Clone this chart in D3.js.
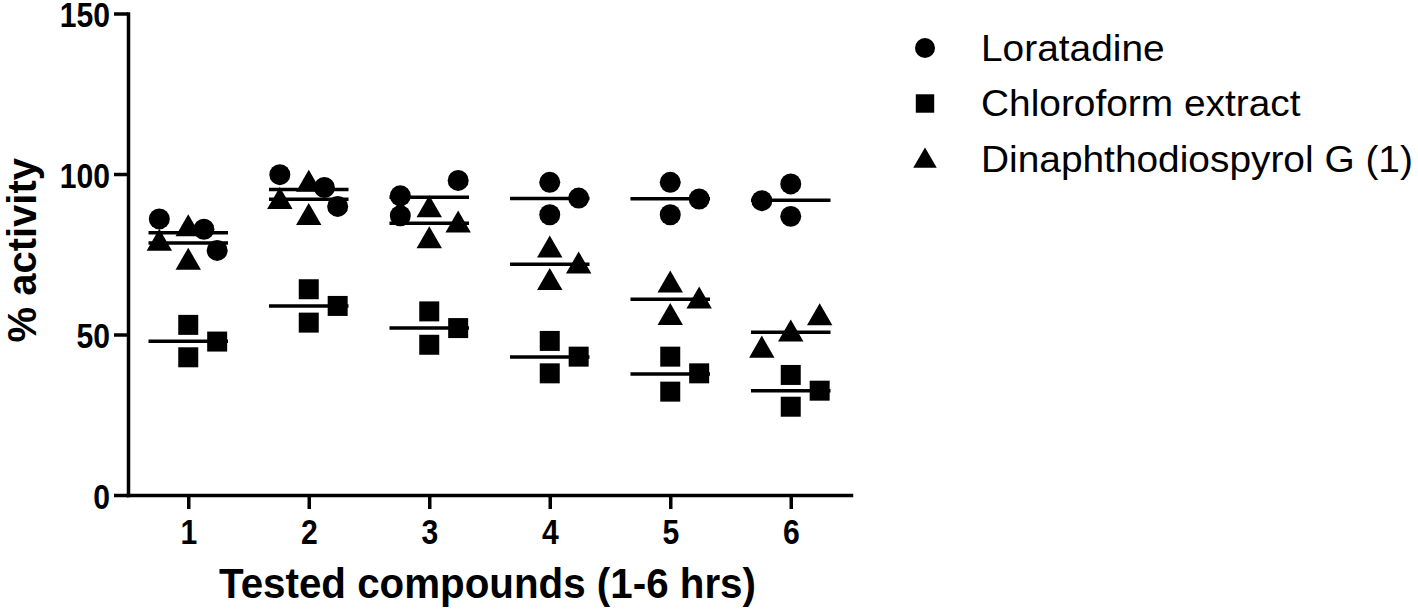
<!DOCTYPE html>
<html>
<head>
<meta charset="utf-8">
<script src="https://cdn.jsdelivr.net/npm/d3@7"></script>
<style>
  body { margin: 0; background: #fff; }
  svg { display: block; }
  text { font-family: "Liberation Sans", Arial, sans-serif; fill: #000; }
</style>
</head>
<body>
<script>
// ---- data ----
const compounds = [1, 2, 3, 4, 5, 6];
const yTicks = [0, 50, 100, 150];
const seriesNames = ["Loratadine", "Chloroform extract", "Dinaphthodiospyrol G (1)"];

// three replicates per compound, % activity
const loratadine = [
  [86.0, 82.8, 76.2], [99.8, 95.8, 89.9], [98.0, 93.2, 87.0],
  [97.4, 92.5, 87.3], [97.4, 92.2, 87.3], [96.9, 91.7, 86.8]
];
const chloroform = [
  [53.0, 47.8, 42.9], [64.1, 58.9, 53.7], [57.2, 52.0, 46.8],
  [48.0, 43.1, 37.9], [43.1, 37.9, 32.2], [37.4, 32.5, 27.5]
];
const dinaphtho = [
  [83.5, 79.0, 73.1], [97.4, 92.0, 87.0], [89.4, 84.7, 79.8],
  [76.9, 71.9, 66.8], [66.0, 61.0, 55.9], [55.8, 50.7, 45.7]
];

// horizontal spread of each replicate (in compound units), as drawn by the scatter plot
const loratadineSpread = [
  [-0.24, 0.13, 0.24], [-0.24, 0.13, 0.24], [0.24, -0.24, -0.24],
  [0, 0.24, 0], [0, 0.24, 0], [0, -0.24, 0]
];
const chloroformSpread = [
  [0, 0.24, 0], [0, 0.24, 0], [0, 0.24, 0],
  [0, 0.24, 0], [0, 0.24, 0], [0, 0.24, 0]
];
const dinaphthoSpread = [
  [0, -0.24, 0], [0, -0.24, 0], [0, 0.24, 0],
  [0, 0.24, 0], [0, 0.24, 0], [0.24, 0, -0.24]
];

const width = 1418, height = 610;

const svg = d3.select("body").append("svg")
    .attr("width", width)
    .attr("height", height);

const x = d3.scaleLinear().domain([0.5, 6.5]).range([128, 851]);
const y = d3.scaleLinear().domain([0, 150]).range([495, 13.5]);

// resize a label horizontally, glyphs of the original are narrower/wider than ours
function squeeze(sel, k) {
  sel.each(function () {
    const w = this.getComputedTextLength();
    this.setAttribute("textLength", w * k);
    this.setAttribute("lengthAdjust", "spacingAndGlyphs");
  });
}

// y axis
const gy = svg.append("g")
    .attr("transform", `translate(${x(0.5)},0)`)
    .call(d3.axisLeft(y).tickValues(yTicks).tickSize(14).tickSizeOuter(0).tickPadding(4));

// x axis
const gx = svg.append("g")
    .attr("transform", `translate(0,${y(0)})`)
    .call(d3.axisBottom(x).tickValues(compounds).tickFormat(d3.format("d"))
      .tickSize(14).tickSizeOuter(0).tickPadding(10));

[gx, gy].forEach(g => {
  g.attr("font-size", null).attr("font-family", null);
  g.select(".domain").attr("stroke", "#000").attr("stroke-width", 3.5).attr("stroke-linecap", "square");
  g.selectAll(".tick line").attr("stroke", "#000").attr("stroke-width", 3.5);
  g.selectAll(".tick text")
      .style("font-size", "35px")
      .style("font-weight", "bold")
      .attr("fill", "#000");
});
gy.selectAll(".tick text").attr("dy", "0.38em");
squeeze(gy.selectAll(".tick text"), 0.86);
squeeze(gx.selectAll(".tick text"), 0.86);

// axis titles
const xt = svg.append("text")
    .attr("x", (x(0.5) + x(6.5)) / 2 - 2)
    .attr("y", 598)
    .attr("text-anchor", "middle")
    .style("font-size", "42px")
    .style("font-weight", "bold")
    .text("Tested compounds (1-6 hrs)");
squeeze(xt, 0.96);

svg.append("text")
    .attr("transform", `translate(36,${(y(0) + y(150)) / 2 - 4}) rotate(-90)`)
    .attr("text-anchor", "middle")
    .style("font-size", "40px")
    .style("font-weight", "bold")
    .text("% activity");

// series setup
const symbols = [d3.symbolCircle, d3.symbolSquare, d3.symbolTriangle];
const symbolSizes = [346, 400, 280];
const values = [loratadine, chloroform, dinaphtho];
const spreads = [loratadineSpread, chloroformSpread, dinaphthoSpread];

const plot = svg.append("g");

values.forEach((series, s) => {
  const sym = d3.symbol().type(symbols[s]).size(symbolSizes[s]);
  const pts = [];
  series.forEach((reps, i) => {
    reps.forEach((v, j) => pts.push({ cx: compounds[i] + spreads[s][i][j], v }));
  });

  // mean lines
  plot.append("g").selectAll("line")
    .data(series.map((reps, i) => ({ c: compounds[i], m: d3.mean(reps) })))
    .join("line")
      .attr("x1", d => x(d.c - 0.33))
      .attr("x2", d => x(d.c + 0.33))
      .attr("y1", d => y(d.m))
      .attr("y2", d => y(d.m))
      .attr("stroke", "#000")
      .attr("stroke-width", 3.5);

  plot.append("g").selectAll("path")
    .data(pts)
    .join("path")
      .attr("d", sym)
      .attr("transform", d => `translate(${x(d.cx)},${y(d.v) + (s === 2 ? 2 : 0)})`)
      .attr("fill", "#000");
});

// legend
const legend = svg.append("g");
seriesNames.forEach((name, i) => {
  const row = legend.append("g").attr("transform", `translate(925,${48 + i * 55.5})`);
  row.append("path")
    .attr("d", d3.symbol().type(symbols[i]).size([314, 340, 240][i]))
    .attr("transform", i === 2 ? "translate(0,2)" : null)
    .attr("fill", "#000");
  const t = row.append("text")
    .attr("x", 56)
    .attr("y", 12.5)
    .style("font-size", "37px")
    .text(name);
  squeeze(t, 1.05);
});
</script>
</body>
</html>
